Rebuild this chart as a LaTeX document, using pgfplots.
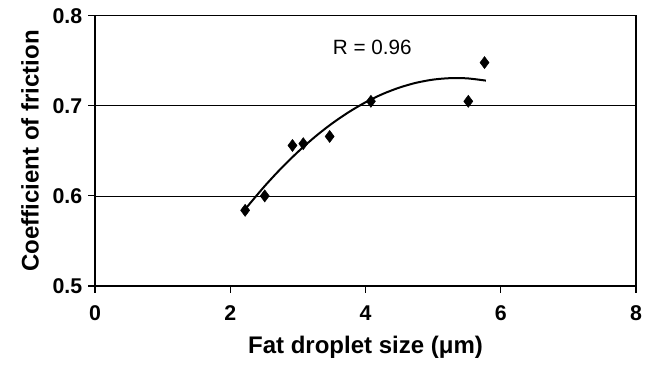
\documentclass[border=0pt]{standalone}
\usepackage{pgfplots}
\pgfplotsset{compat=1.18}
\usepackage{fontspec}
\setmainfont{Liberation Sans}
\begin{document}
\begin{tikzpicture}
\path[use as bounding box] (-71.25pt,-58.5pt) rectangle (418.5pt,214.5pt);
\begin{axis}[
  at={(0pt,0pt)}, anchor=south west,
  scale only axis,
  width=405.75pt, height=202.7pt,
  xmin=0, xmax=8, ymin=0.5, ymax=0.8,
  xtick={0,2,4,6,8}, ytick={0.5,0.6,0.7,0.8},
  yticklabel style={/pgf/number format/fixed,/pgf/number format/precision=1,/pgf/number format/fixed zerofill},
  /pgf/number format/assume math mode=true,
  ticklabel style={font=\fontsize{16}{18}\selectfont\bfseries},
  xticklabel style={yshift=-6pt},
  yticklabel style={xshift=-1pt},
  ymajorgrids, grid style={black, line width=0.6pt},
  axis line style={line width=1.1pt},
  tick style={black, line width=0.8pt},
  tick align=outside, major tick length=5pt,
  xtick pos=bottom, ytick pos=left,
  xlabel={Fat droplet size (μm)},
  ylabel={Coefficient of friction},
  label style={font=\fontsize{18}{20}\selectfont\bfseries},
  xlabel style={at={(axis description cs:0.5,-0.249)}, anchor=base},
  ylabel style={at={(axis description cs:-0.120,0.5)}, anchor=center},
  clip=false,
]
\addplot[black, line width=1.5pt, smooth, no marks] coordinates {
(2.24,0.587) (2.5,0.6101) (2.75,0.6304) (3.0,0.6488) (3.25,0.6654) (3.5,0.6801)
(3.75,0.6929) (4.0,0.7039) (4.25,0.7130) (4.5,0.7202) (4.75,0.7256) (5.0,0.7291)
(5.25,0.7307) (5.5,0.7305) (5.78,0.7280)
};
\addplot[only marks, mark=diamond*, mark size=4.5pt, black] coordinates {
(2.22,0.584) (2.51,0.600) (2.92,0.656) (3.08,0.658) (3.47,0.666)
(4.08,0.705) (5.52,0.705) (5.76,0.748)
};
\node[font=\fontsize{15.5}{17}\selectfont] at (axis cs:4.10,0.765) {R = 0.96};
\end{axis}
\end{tikzpicture}
\end{document}
